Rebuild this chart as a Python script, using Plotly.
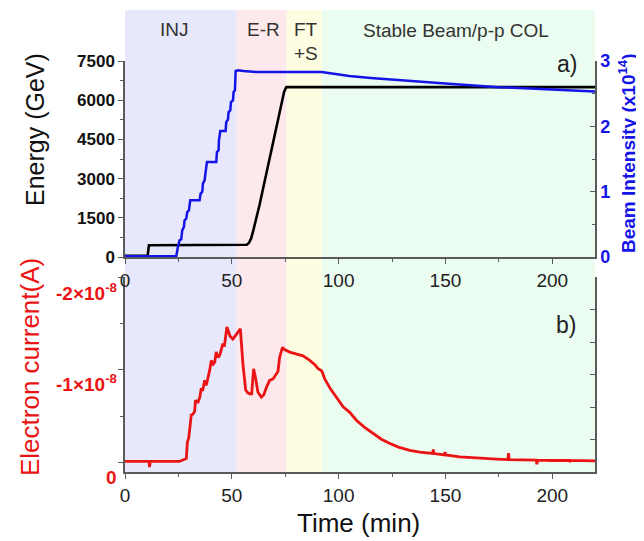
import numpy as np
import plotly.graph_objects as go

# ---------------- data ----------------
phase_names = ["INJ", "E-R", "FT", "Stable Beam/p-p COL"]
phase_start = [0, 52.3, 75.7, 92.2]
phase_end = [52.3, 75.7, 92.2, 220]
phase_colors = ["rgb(232,232,252)", "rgb(253,233,235)", "rgb(253,253,226)", "rgb(235,252,241)"]

energy_t = [0, 10.6, 11.2, 56, 57, 58, 59, 60, 61, 62, 63, 64, 65, 67, 69, 71, 73, 74.5, 75.5, 220]
energy_gev = [50, 50, 450, 450, 470, 540, 700, 1000, 1300, 1650, 2000, 2380, 2760, 3520, 4270, 5030, 5780, 6330, 6500, 6500]

beam_t = [0, 23.98, 24.76, 25.54, 26.32, 26.79, 27.57, 27.88, 28.66, 29.13, 29.91, 30.54, 34.91,
          35.38, 36.16, 36.47, 37.25, 37.72, 38.35, 42.72, 43.03, 43.81, 43.97, 44.60, 47.09,
          47.41, 48.19, 48.50, 49.28, 49.59, 50.53, 50.84, 51.47, 51.78, 52.87, 55.53, 61.47,
          92, 96, 100, 105, 115, 130, 150, 175, 200, 220]
beam_1e14 = [0.01, 0.01, 0.153, 0.255, 0.27, 0.408, 0.459, 0.561, 0.587, 0.689, 0.714, 0.867, 0.867,
             0.969, 0.995, 1.122, 1.173, 1.30, 1.454, 1.454, 1.607, 1.633, 1.786, 1.929, 1.929,
             2.066, 2.102, 2.219, 2.245, 2.372, 2.398, 2.526, 2.551, 2.847, 2.857, 2.847, 2.83,
             2.83, 2.81, 2.79, 2.77, 2.74, 2.70, 2.655, 2.60, 2.565, 2.535]

current_t = [0, 11.2, 11.5, 11.8, 25.5, 27.5, 28.7, 29.2, 29.8, 30.5, 31.0, 31.8, 32.6, 33.0, 34.2,
             35.0, 35.7, 36.3, 37.3, 38.0, 38.8, 39.6, 40.4, 41.3, 42.0, 42.7, 43.6, 44.4, 45.8,
             46.5, 47.7, 48.4, 49.2, 50.5, 52.2, 54.0, 55.2, 56.5, 57.5, 58.3, 59.3, 60.2, 61.2,
             62.2, 63.8, 65.0, 66.2, 67.7, 69.3, 70.8, 71.6, 72.4, 73.7, 74.5, 77.1, 80.0, 83.3,
             86.5, 89.0, 90.4, 91.9, 92.4, 93.5, 96, 99, 102.1, 105.2, 108.3, 112, 116.1, 120,
             124, 128, 133.3, 138, 144.0, 144.3, 144.6, 149.5, 149.8, 150.1, 156.7, 162, 167.7,
             174, 179.2, 179.5, 179.8, 185, 191.1, 192.5, 192.8, 193.1, 200, 206.7, 208, 208.3,
             208.6, 214, 220]
# electron current in units of 1e-8 A
current_1e8 = [-0.01, -0.01, 0.05, -0.01, -0.01, -0.03, -0.04, -0.22, -0.26, -0.40, -0.51, -0.52,
               -0.55, -0.67, -0.65, -0.70, -0.80, -0.77, -0.885, -0.83, -0.90, -0.99, -1.10, -1.06,
               -1.08, -1.19, -1.13, -1.16, -1.28, -1.25, -1.46, -1.40, -1.36, -1.33, -1.39, -1.44,
               -1.06, -0.78, -0.75, -0.74, -0.74, -1.01, -0.90, -0.76, -0.705, -0.73, -0.81, -0.885,
               -0.90, -0.96, -0.98, -1.135, -1.24, -1.22, -1.19, -1.17, -1.15, -1.10, -1.05, -1.01,
               -0.99, -0.97, -0.90, -0.80, -0.705, -0.60, -0.54, -0.455, -0.38, -0.31, -0.25,
               -0.204, -0.165, -0.13, -0.11, -0.097, -0.14, -0.095, -0.08, -0.11, -0.08, -0.06,
               -0.05, -0.043, -0.035, -0.03, -0.10, -0.03, -0.027, -0.025, -0.024, 0.02, -0.024,
               -0.02, -0.02, -0.02, -0.005, -0.02, -0.018, -0.017]

time_ticks = [0, 50, 100, 150, 200]
energy_ticks = [0, 1500, 3000, 4500, 6000, 7500]
beam_ticks = [0, 1, 2, 3]
current_ticks = [0, -1, -2]
current_tick_text = ["0", "-1×10<sup>-8</sup>", "-2×10<sup>-8</sup>"]

# ---------------- figure ----------------
# the page body has an 8px margin, so the figure is drawn 8px smaller and the
# reference pixel coordinates below are used as they are.
OFF = 8
W, H = 644 - OFF, 541 - OFF
L, R, T, B = 125 - OFF, 49, 10 - OFF, 69
PW, PH = 470, 462


def px(x):
    return (x - 125) / PW


def py(y):
    return (472 - y) / PH


FONT = "Liberation Sans, Arial, sans-serif"
AX = "#5a5a5a"
BLUE = "rgb(20,20,230)"
RED = "rgb(235,20,20)"

fig = go.Figure()

fig.add_trace(go.Scatter(x=energy_t, y=energy_gev, mode="lines", line=dict(color="black", width=2.6),
                         xaxis="x2", yaxis="y2", showlegend=False))
fig.add_trace(go.Scatter(x=beam_t, y=beam_1e14, mode="lines", line=dict(color=BLUE, width=2.5),
                         xaxis="x2", yaxis="y3", showlegend=False))
fig.add_trace(go.Scatter(x=current_t, y=np.array(current_1e8) * 1e-8, mode="lines",
                         line=dict(color=RED, width=2.8), xaxis="x", yaxis="y", showlegend=False))
fig.add_trace(go.Scatter(x=[None], y=[None], xaxis="x", yaxis="y4", showlegend=False))

shapes = []
for s, e, c in zip(phase_start, phase_end, phase_colors):
    shapes.append(dict(type="rect", xref="x", yref="paper", x0=s, x1=e, y0=0, y1=1,
                       fillcolor=c, line=dict(width=0), layer="below"))

top_dom = [py(257), py(61)]
bot_dom = [0, py(277)]

common_x = dict(range=[0, 220], tickvals=time_ticks, ticks="outside", ticklen=5, tickwidth=1.2,
                tickcolor=AX, showline=True, linecolor=AX, linewidth=1.5, showgrid=False,
                zeroline=False, tickfont=dict(family=FONT, size=19, color="#222"),
                minor=dict(dtick=25, tick0=0, ticks="outside", ticklen=3, tickcolor=AX))

annotations = []


def ann(text, x, y, size, color="#333", bold=False, angle=0, xanchor="center", yanchor="middle"):
    annotations.append(dict(text=("<b>%s</b>" % text) if bold else text, xref="paper", yref="paper",
                            x=x, y=y, showarrow=False, textangle=angle, xanchor=xanchor,
                            yanchor=yanchor, font=dict(family=FONT, size=size, color=color)))


ann("INJ", px(174), py(30), 19)
ann("E-R", px(263), py(30), 19)
ann("FT", px(306), py(30), 19)
ann("+S", px(306), py(53), 19)
ann("Stable Beam/p-p COL", px(456), py(31), 19)
ann("a)", px(567), py(64), 23, color="#222")
ann("b)", px(566), py(325), 23, color="#222")
ann("Energy (GeV)", px(35), py(130), 25, color="#111", angle=-90)
ann("Electron current(A)", px(30), py(367), 26, color=RED, angle=-90)
ann("Beam Intensity (x10<sup>14</sup>)", px(627), py(153), 19, color=BLUE, bold=True, angle=-90)
ann("Time (min)", px(358), py(523), 26, color="#111")
for txt, yy in zip(current_tick_text, [477, 383, 292]):
    ann(txt, px(119), py(yy), 19, color=RED, bold=True, xanchor="right")

fig.update_layout(
    width=W, height=H, margin=dict(l=L, r=R, t=T, b=B, pad=0, autoexpand=False),
    paper_bgcolor="white", plot_bgcolor="white",
    shapes=shapes, annotations=annotations,
    xaxis=dict(anchor="y", domain=[0, 1], **common_x),
    xaxis2=dict(anchor="y2", domain=[0, 1], **common_x),
    yaxis=dict(domain=bot_dom, anchor="x", range=[0.104e-8, -2e-8], tickvals=[v * 1e-8 for v in current_ticks],
               showticklabels=False, ticks="outside", ticklen=5, tickwidth=1.2, tickcolor=AX,
               showline=True, linecolor=AX, linewidth=1.5, showgrid=False, zeroline=False,
               minor=dict(tickvals=[-0.5e-8, -1.5e-8], ticks="outside", ticklen=3, tickcolor=AX)),
    yaxis4=dict(overlaying="y", anchor="x", side="right", range=[0, 6], tickvals=[1, 2, 3, 4, 5],
                showticklabels=False, ticks="inside", ticklen=5, tickwidth=1.2, tickcolor=AX,
                showline=True, linecolor=AX, linewidth=1.5, showgrid=False, zeroline=False),
    yaxis2=dict(domain=top_dom, anchor="x2", range=[0, 7500], tickvals=energy_ticks, ticks="outside",
                ticklen=5, tickwidth=1.2, tickcolor=AX, showline=True, linecolor=AX, linewidth=1.5,
                showgrid=False, zeroline=False,
                tickfont=dict(family=FONT, size=17, color="#111", weight="bold"),
                minor=dict(dtick=750, tick0=0, ticks="outside", ticklen=3, tickcolor=AX)),
    yaxis3=dict(overlaying="y2", anchor="x2", side="right", range=[0, 3], tickvals=beam_ticks,
                ticks="inside", ticklen=5, tickwidth=1.2, tickcolor=AX, showline=True, linecolor=AX,
                linewidth=1.5, showgrid=False, zeroline=False,
                tickfont=dict(family=FONT, size=18, color=BLUE, weight="bold"),
                minor=dict(dtick=0.5, tick0=0, ticks="inside", ticklen=3, tickcolor=AX)),
)

fig.write_html("out.html")
